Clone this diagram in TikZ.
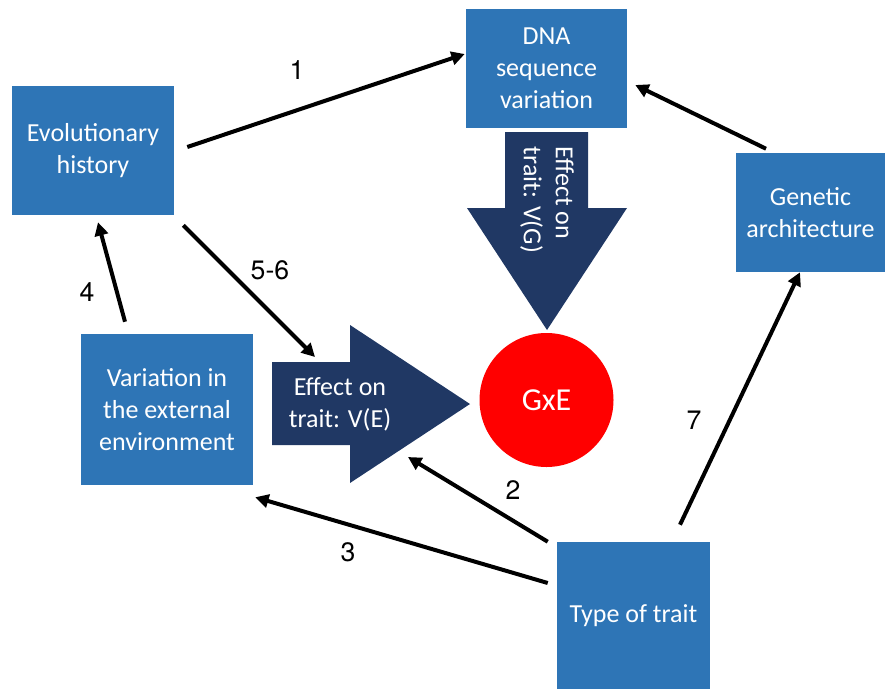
\documentclass[tikz,border=0pt]{standalone}
\usepackage{fontspec}
\usepackage{xcolor}
\usetikzlibrary{arrows.meta}
\newfontfamily\boxfont{Carlito}
\newfontfamily\numfont{TeX Gyre Heros}
\definecolor{boxblue}{RGB}{46,117,182}
\definecolor{navy}{RGB}{32,56,100}
\definecolor{gxered}{RGB}{255,0,0}

\begin{document}
\begin{tikzpicture}[x=0.75pt, y=-0.75pt,
  box/.style={rectangle, fill=boxblue, text=white, inner sep=0pt, align=center,
    font=\boxfont\fontsize{19.5}{24}\selectfont},
  link/.style={-{Triangle[length=10pt,width=10pt]}, line width=3pt, black},
  num/.style={font=\numfont\fontsize{20}{24}\selectfont}]
\useasboundingbox (0,0) rectangle (885,689);

\node[box, minimum width=121.5pt, minimum height=96.75pt] (evo) at (93,150.5) {Evolutionary\\history};
\node[box, minimum width=120.75pt, minimum height=89.25pt] (dna) at (546.5,68.5) {DNA\\sequence\\variation};
\node[box, minimum width=111.75pt, minimum height=89.25pt] (gen) at (810.5,212.5) {Genetic\\architecture};
\node[box, minimum width=129pt, minimum height=113.25pt] (var) at (167,409.5) {Variation in\\the external\\environment};
\node[box, minimum width=114.75pt, minimum height=110.25pt] (type) at (633.5,615.5) {Type of trait};

% block arrows
\fill[navy] (505,132) -- (588,132) -- (588,208) -- (627,208) -- (547,330) -- (467,208) -- (505,208) -- cycle;
\node[text=white, align=left, rotate=-90, font=\boxfont\fontsize{19.5}{24}\selectfont] (vg) at (547,200) {Effect on\\trait: V(G)};
\fill[navy] (272,362) -- (350,362) -- (350,325) -- (470,404) -- (350,483) -- (350,445) -- (272,445) -- cycle;
\node[text=white, align=center, font=\boxfont\fontsize{19.5}{24}\selectfont] (ve) at (340,404) {Effect on\\trait: V(E)};

\node[circle, fill=gxered, text=white, minimum size=100.5pt, inner sep=0pt,
  font=\boxfont\fontsize{24}{28}\selectfont] (gxe) at (546.5,400) {GxE};

\draw[link] ([shift={(13,-3.5)}] evo.east) -- ([shift={(-1,-14.5)}] dna.west);
\draw[link] ([shift={(-44.5,-4)}] gen.north) -- ([shift={(8,16.5)}] dna.east);
\draw[link] ([shift={(9,10)}] evo.south east) -- ([shift={(-25,-47)}] ve.center);
\draw[link] ([shift={(-42,-12)}] var.north) -- ([shift={(5,7)}] evo.south);
\draw[link] ([shift={(-9,0)}] type.north west) -- ([shift={(68,53)}] ve.center);
\draw[link] ([shift={(-9,-32.5)}] type.west) -- ([shift={(2,12)}] var.south east);
\draw[link] ([shift={(46.5,-17)}] type.north) -- ([shift={(-10.5,0)}] gen.south);

\node[num] (lab1) at (297,70) {1};
\node[num] (lab2) at (513,490) {2};
\node[num] (lab3) at (348,552) {3};
\node[num] (lab4) at (87,292) {4};
\node[num] (lab56) at (270,270) {5-6};
\node[num] (lab7) at (694,420) {7};
\end{tikzpicture}
\end{document}
